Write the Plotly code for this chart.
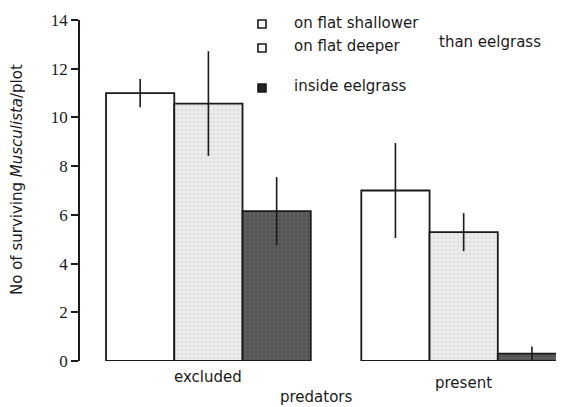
import plotly.graph_objects as go

# ---- data ----
categories = ["excluded", "present"]
series_names = ["on flat shallower", "on flat deeper", "inside eelgrass"]
shallower_vals = [11.0, 7.0]
shallower_err = [0.58, 1.95]
deeper_vals = [10.57, 5.29]
deeper_err = [2.15, 0.78]
eelgrass_vals = [6.15, 0.3]
eelgrass_err = [1.4, 0.3]
y_ticks = [0, 2, 4, 6, 8, 10, 12, 14]
x_title = "predators"
y_title = "No of surviving <i>Musculista</i>/plot"
legend_extra = "than eelgrass"

# page places the figure at an 8px body margin
OFF = 8
W, H = 564 - OFF, 407 - OFF
PLOT_L, PLOT_R, PLOT_T, PLOT_B = 80, 564, 20, 361   # in page pixels
L, R, T, B = PLOT_L - OFF, 564 - PLOT_R, PLOT_T - OFF, 407 - PLOT_B
PW, PH = PLOT_R - PLOT_L, PLOT_B - PLOT_T


def px(x):
    return (x - PLOT_L) / PW


def py(y):
    return (PLOT_B - y) / PH


SANS = "DejaVu Sans"
SERIF = "Liberation Serif"
INK = "#1a1a1a"

fills = [
    dict(color="white"),
    dict(color="#e9e9e9", pattern=dict(shape=".", bgcolor="#ececec", fgcolor="#cfcfcf", size=4, solidity=0.35)),
    dict(color="#575757", pattern=dict(shape=".", bgcolor="#555555", fgcolor="#707070", size=4, solidity=0.35)),
]
vals = [shallower_vals, deeper_vals, eelgrass_vals]
errs = [shallower_err, deeper_err, eelgrass_err]

fig = go.Figure()
for name, v, e, f in zip(series_names, vals, errs, fills):
    marker = dict(f)
    marker["line"] = dict(color=INK, width=1.8)
    fig.add_trace(go.Bar(
        x=categories, y=v, name=name, marker=marker,
        error_y=dict(type="data", array=e, visible=True, color=INK, thickness=1.6, width=0),
        showlegend=False,
    ))

fig.update_layout(
    width=W, height=H,
    margin=dict(l=L, r=R, t=T, b=B, pad=0),
    paper_bgcolor="white", plot_bgcolor="white",
    barmode="group", bargap=0.198, bargroupgap=0,
    font=dict(family=SANS, size=15, color=INK),
    xaxis=dict(type="category", range=[-0.503, 1.393], showticklabels=False,
               showline=False, showgrid=False, zeroline=False, ticks=""),
    yaxis=dict(range=[0, 14], tickvals=y_ticks, ticks="outside", ticklen=7, tickwidth=1.5,
               tickcolor=INK, showline=True, linecolor=INK, linewidth=1.5,
               showgrid=False, zeroline=False,
               tickfont=dict(family=SERIF, size=17, color=INK)),
)

annotations = []
# category labels
cat_pos = [(215, 377), (458, 383)]
for c, (cx, cy) in zip(categories, cat_pos):
    annotations.append(dict(text=c, xref="x", x=c, yref="paper", y=py(cy),
                            showarrow=False, xanchor="center", yanchor="middle",
                            font=dict(family=SANS, size=15, color=INK)))
annotations.append(dict(text=x_title, xref="paper", x=px(316), yref="paper", y=py(397),
                        showarrow=False, xanchor="center", yanchor="middle",
                        font=dict(family=SANS, size=15, color=INK)))
annotations.append(dict(text=y_title, xref="paper", x=px(17), yref="paper", y=py(180),
                        showarrow=False, textangle=-90, xanchor="center", yanchor="middle",
                        font=dict(family=SANS, size=15, color=INK)))

# legend
leg_text_y = [23, 46, 86]
leg_box_y = [24, 48, 88]
shapes = []
box_fill = ["white", "white", "#222222"]
for name, ty, by, bf in zip(series_names, leg_text_y, leg_box_y, box_fill):
    annotations.append(dict(text=name, xref="paper", x=px(292), yref="paper", y=py(ty),
                            showarrow=False, xanchor="left", yanchor="middle",
                            font=dict(family=SANS, size=15, color=INK)))
    shapes.append(dict(type="rect", xref="paper", yref="paper",
                       x0=px(258), x1=px(266), y0=py(by + 4), y1=py(by - 4),
                       line=dict(color=INK, width=1.6), fillcolor=bf))
annotations.append(dict(text=legend_extra, xref="paper", x=px(437), yref="paper", y=py(42),
                        showarrow=False, xanchor="left", yanchor="middle",
                        font=dict(family=SANS, size=15, color=INK)))

fig.update_layout(annotations=annotations, shapes=shapes)
fig.write_html("out.html")
